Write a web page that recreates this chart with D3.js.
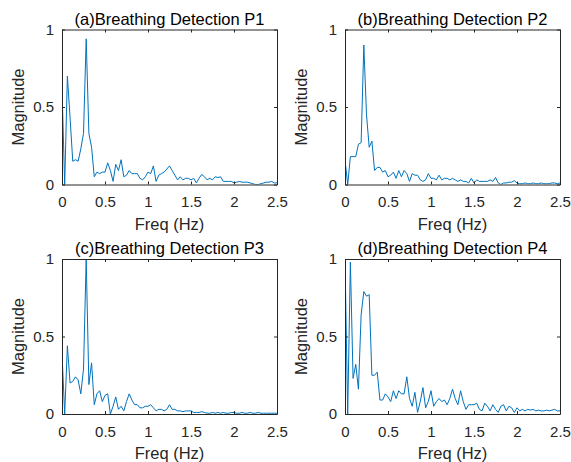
<!DOCTYPE html>
<html>
<head>
<meta charset="utf-8">
<script src="https://cdn.jsdelivr.net/npm/d3@7"></script>
<style>
  body { margin: 0; background: #fff; }
  text { font-family: "Liberation Sans", Arial, sans-serif; fill: #262626; }
</style>
</head>
<body>
<div id="chart"></div>
<script>
// FFT bin spacing (Hz) shared by all four spectra
var freqStep = 1 / 32;

var xTicks = [0, 0.5, 1, 1.5, 2, 2.5];
var yTicks = [0, 0.5, 1];

var titles = ["(a)Breathing Detection P1", "(b)Breathing Detection P2",
              "(c)Breathing Detection P3", "(d)Breathing Detection P4"];

var p1 = [0.62, 0.00, 0.70, 0.43, 0.15, 0.16, 0.15, 0.23, 0.33, 0.94,
  0.33, 0.24, 0.05, 0.08, 0.07, 0.08, 0.08, 0.14, 0.09, 0.02,
  0.13, 0.09, 0.16, 0.05, 0.06, 0.09, 0.07, 0.07, 0.07, 0.04,
  0.03, 0.05, 0.08, 0.07, 0.12, 0.02, 0.06, 0.07, 0.08, 0.10,
  0.12, 0.09, 0.06, 0.03, 0.05, 0.03, 0.04, 0.04, 0.03, 0.04,
  0.01, 0.04, 0.065, 0.05, 0.03, 0.04, 0.03, 0.05, 0.045, 0.05,
  0.02, 0.02, 0.02, 0.02, 0.01, 0.015, 0.02, 0.015, 0.015, 0.015,
  0.01, 0.005, 0.0, 0.0, 0.005, 0.01, 0.015, 0.015, 0.02, 0.01, 0.01];

var p2 = [0.16, 0.00, 0.18, 0.18, 0.18, 0.26, 0.27, 0.90, 0.45, 0.24,
  0.28, 0.09, 0.11, 0.11, 0.08, 0.09, 0.05, 0.06, 0.08, 0.04,
  0.09, 0.05, 0.09, 0.07, 0.02, 0.07, 0.06, 0.06, 0.03, 0.02,
  0.03, 0.07, 0.04, 0.04, 0.03, 0.06, 0.03, 0.04, 0.04, 0.03,
  0.04, 0.03, 0.02, 0.03, 0.02, 0.02, 0.01, 0.04, 0.01, 0.03,
  0.02, 0.02, 0.02, 0.02, 0.03, 0.02, 0.045, 0.01, 0.0, 0.01,
  0.01, 0.015, 0.015, 0.025, 0.01, 0.005, 0.005, 0.01, 0.005, 0.005,
  0.01, 0.005, 0.005, 0.01, 0.005, 0.005, 0.005, 0.01, 0.01, 0.005, 0.01];

var p3 = [0.39, 0.00, 0.44, 0.20, 0.21, 0.24, 0.22, 0.13, 0.29, 1.00,
  0.19, 0.33, 0.06, 0.13, 0.15, 0.08, 0.12, 0.13, 0.00, 0.05,
  0.11, 0.03, 0.05, 0.02, 0.08, 0.13, 0.09, 0.06, 0.06, 0.04,
  0.04, 0.05, 0.05, 0.06, 0.04, 0.02, 0.03, 0.03, 0.02, 0.03,
  0.06, 0.03, 0.03, 0.02, 0.02, 0.015, 0.02, 0.02, 0.02, 0.01,
  0.01, 0.01, 0.015, 0.01, 0.005, 0.005, 0.01, 0.005, 0.01, 0.005,
  0.01, 0.005, 0.005, 0.01, 0.01, 0.005, 0.005, 0.01, 0.005, 0.005,
  0.01, 0.005, 0.005, 0.01, 0.005, 0.005, 0.005, 0.005, 0.005, 0.005, 0.005];

var p4 = [1.00, 0.00, 0.98, 0.23, 0.32, 0.16, 0.64, 0.79, 0.76, 0.77,
  0.25, 0.25, 0.27, 0.09, 0.09, 0.13, 0.11, 0.08, 0.15, 0.10,
  0.15, 0.13, 0.13, 0.24, 0.10, 0.05, 0.14, 0.01, 0.08, 0.17,
  0.04, 0.08, 0.15, 0.05, 0.08, 0.10, 0.08, 0.09, 0.06, 0.10,
  0.16, 0.10, 0.06, 0.15, 0.08, 0.03, 0.06, 0.06, 0.06, 0.07,
  0.03, 0.02, 0.07, 0.05, 0.02, 0.06, 0.03, 0.01, 0.05, 0.06,
  0.02, 0.05, 0.04, 0.01, 0.04, 0.02, 0.03, 0.02, 0.03, 0.025,
  0.03, 0.02, 0.025, 0.02, 0.02, 0.025, 0.02, 0.025, 0.03, 0.02, 0.02];

var series = [p1, p2, p3, p4];

var width = 571, height = 462;
var plotW = 215, plotH = 155;
var lefts = [62, 345], tops = [29.5, 259];

var svg = d3.select("#chart")
  .append("svg")
    .attr("width", width)
    .attr("height", height);

var axisColor = "#262626";

series.forEach(function(vals, k) {
  var col = k % 2, row = Math.floor(k / 2);
  var g = svg.append("g")
    .attr("transform", "translate(" + lefts[col] + "," + tops[row] + ")");

  var x = d3.scaleLinear().domain([0, 2.5]).range([0, plotW]);
  var y = d3.scaleLinear().domain([0, 1]).range([plotH, 0]);

  g.append("clipPath").attr("id", "clip" + k)
    .append("rect").attr("x", 0).attr("y", -1).attr("width", plotW).attr("height", plotH + 1);

  var line = d3.line()
    .x(function(d, i) { return x(i * freqStep); })
    .y(function(d) { return y(d); });

  g.append("path")
    .datum(vals)
    .attr("clip-path", "url(#clip" + k + ")")
    .attr("fill", "none")
    .attr("stroke", "#0072BD")
    .attr("stroke-width", 1)
    .attr("stroke-linejoin", "round")
    .attr("d", line);

  // axes, ticks pointing inward like matlab
  var bottom = g.append("g").attr("transform", "translate(0," + plotH + ")")
    .call(d3.axisBottom(x).tickValues(xTicks).tickFormat(d3.format("~g"))
      .tickSizeInner(-3).tickSizeOuter(0).tickPadding(12));
  var left = g.append("g")
    .call(d3.axisLeft(y).tickValues(yTicks).tickFormat(d3.format("~g"))
      .tickSizeInner(-3).tickSizeOuter(0).tickPadding(8));
  var top = g.append("g")
    .call(d3.axisTop(x).tickValues(xTicks).tickFormat("")
      .tickSizeInner(-3).tickSizeOuter(0));
  var right = g.append("g").attr("transform", "translate(" + plotW + ",0)")
    .call(d3.axisRight(y).tickValues(yTicks).tickFormat("")
      .tickSizeInner(-3).tickSizeOuter(0));

  [bottom, left, top, right].forEach(function(a) {
    a.select(".domain").attr("stroke", axisColor);
    a.selectAll(".tick line").attr("stroke", axisColor);
    a.selectAll(".tick text")
      .attr("fill", axisColor)
      .style("font-size", "15px")
      .style("font-family", "'Liberation Sans', Arial, sans-serif");
  });

  g.append("text")
    .attr("x", plotW / 2)
    .attr("y", -5)
    .attr("text-anchor", "middle")
    .style("font-size", "16.5px")
    .style("fill", "#000")
    .text(titles[k]);

  g.append("text")
    .attr("x", plotW / 2)
    .attr("y", plotH + 45)
    .attr("text-anchor", "middle")
    .style("font-size", "16.5px")
    .text("Freq (Hz)");

  g.append("text")
    .attr("transform", "translate(-38," + (plotH / 2) + ") rotate(-90)")
    .attr("text-anchor", "middle")
    .style("font-size", "16.5px")
    .text("Magnitude");
});
</script>
</body>
</html>
